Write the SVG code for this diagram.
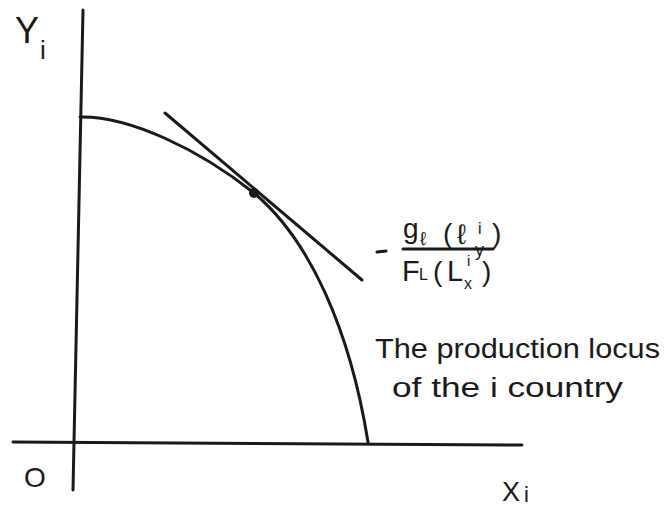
<svg xmlns="http://www.w3.org/2000/svg" width="666" height="509" viewBox="0 0 666 509">
<style>
.ln{fill:none;stroke:#1a1a1a;stroke-width:3;stroke-linecap:round}
text{font-family:"Liberation Sans","DejaVu Sans",sans-serif;fill:#1a1a1a}
</style>
<rect width="666" height="509" fill="#fff"/>
<g id="axes">
<line class="ln" x1="83" y1="10" x2="73" y2="490"/>
<line class="ln" x1="13" y1="442" x2="522" y2="445"/>
</g>
<g id="curve">
<path class="ln" d="M 80 117 C 130 116, 200 150, 254 193 C 310 240, 350 330, 368 442"/>
</g>
<g id="tangent">
<line class="ln" x1="165" y1="113" x2="362" y2="280" stroke-width="2.5"/>
<circle cx="254" cy="193" r="5" fill="#1a1a1a"/>
</g>
<g id="labels">
<text x="15" y="43" font-size="36">Y</text>
<text x="40" y="59" font-size="26">i</text>
<text x="24" y="487" font-size="28">O</text>
<text x="502" y="501" font-size="27">X</text>
<text x="524" y="502" font-size="22">i</text>
</g>
<g id="slope">
<line class="ln" x1="377" y1="252" x2="386" y2="251" stroke-width="2.5"/>
<text x="403" y="238" font-size="28">g</text>
<text x="420" y="245" font-size="19">ℓ</text>
<text x="443" y="243" font-size="28">(</text>
<text x="457" y="244" font-size="28">ℓ</text>
<text x="475" y="256" font-size="18">y</text>
<text x="478" y="234" font-size="16">i</text>
<text x="492" y="243" font-size="28">)</text>
<line class="ln" x1="403" y1="249" x2="493" y2="249" stroke-width="2.5"/>
<text x="402" y="281" font-size="29">F</text>
<text x="419" y="280" font-size="16">L</text>
<text x="433" y="281" font-size="28">(</text>
<text x="447" y="281" font-size="29">L</text>
<text x="464" y="289" font-size="16">x</text>
<text x="467" y="266" font-size="15">i</text>
<text x="482" y="281" font-size="28">)</text>
</g>
<g id="caption">
<text x="375" y="358" font-size="27" textLength="285" lengthAdjust="spacingAndGlyphs">The production locus</text>
<text x="392" y="397" font-size="27" textLength="231" lengthAdjust="spacingAndGlyphs">of the i country</text>
</g>
</svg>
